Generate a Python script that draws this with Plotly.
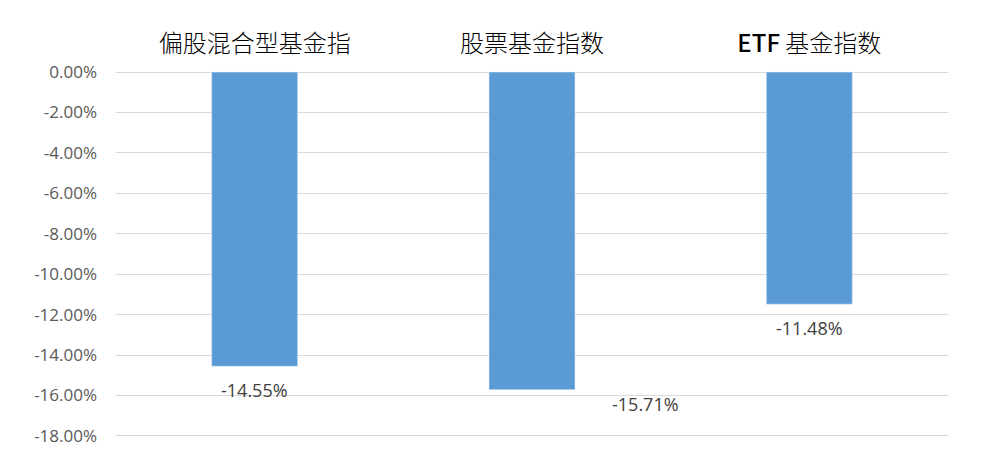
import plotly.graph_objects as go

# categories and values (fund index returns)
categories = ["偏股混合型基金指", "股票基金指数", "ETF 基金指数"]
category_text = ["偏股混合型基金指", "股票基金指数",
                 "<span style='font-weight:500'>ETF</span> 基金指数"]
values = [-0.1455, -0.1571, -0.1148]
labels = ["-14.55%", "-15.71%", "-11.48%"]

tick_vals = [0, -0.02, -0.04, -0.06, -0.08, -0.10, -0.12, -0.14, -0.16, -0.18]
tick_text = ["0.00%", "-2.00%", "-4.00%", "-6.00%", "-8.00%", "-10.00%",
             "-12.00%", "-14.00%", "-16.00%", "-18.00%"]

# label offsets (the middle one sits to the right in the original)
label_xshift = [0, 113, 0]
label_yshift = [-24, -14, -24]

bars = go.Bar(x=categories, y=values, marker=dict(color="#5B9BD5"),
              width=0.31, hoverinfo="skip")

fig = go.Figure(data=[bars])

for cat, v, t, dx, dy in zip(categories, values, labels, label_xshift, label_yshift):
    fig.add_annotation(x=cat, y=v, text=t, showarrow=False, yshift=dy, xshift=dx,
                       font=dict(family="Open Sans, sans-serif", size=18, color="#404040"))

# page body has an 8px margin, so margins are shifted to compensate
fig.update_layout(
    width=990, height=459,
    margin=dict(l=108, r=50, t=62, b=29),
    plot_bgcolor="white", paper_bgcolor="white",
    showlegend=False,
    xaxis=dict(side="top", showline=False, ticks="", ticklabelstandoff=12,
               tickvals=categories, ticktext=category_text,
               tickfont=dict(family="Noto Sans CJK SC", size=24, color="#000000",
                             weight=300)),
    yaxis=dict(range=[-0.181, 0.001], tickvals=tick_vals, ticktext=tick_text,
               showgrid=True, gridcolor="#D9D9D9", gridwidth=1,
               zeroline=True, zerolinecolor="#D9D9D9", zerolinewidth=1,
               tickfont=dict(family="Open Sans, sans-serif", size=17, color="#595959"),
               ticklabelstandoff=18),
)

fig.write_html("out.html")
